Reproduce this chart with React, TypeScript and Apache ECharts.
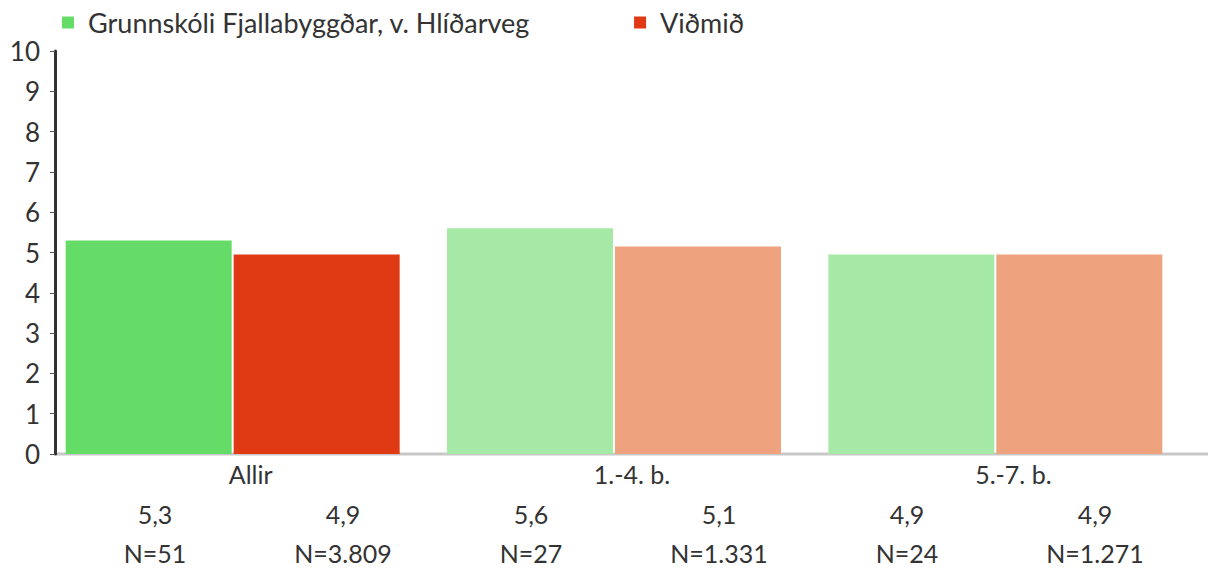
import React, { useEffect, useRef } from "react";
import * as echarts from "echarts";

// ---- data ----
const categories = ["Allir", "1.-4. b.", "5.-7. b."];
const seriesNames = ["Grunnskóli Fjallabyggðar, v. Hlíðarveg", "Viðmið"];
const schoolValues = [5.3, 5.6, 4.95];
const benchmarkValues = [4.95, 5.15, 4.95];
const valueLabels = ["5,3", "4,9", "5,6", "5,1", "4,9", "4,9"];
const nLabels = ["N=51", "N=3.809", "N=27", "N=1.331", "N=24", "N=1.271"];
const yTicks = [0, 10, 1]; // min, max, interval

// ---- styles ----
const FONT = "Lato";
const FS = 25;
const TEXT = "#333333";
const schoolStrong = "#66dc68";
const schoolLight = "#a6e9a6";
const benchStrong = "#e03a14";
const benchLight = "#eea27d";

export default function App() {
  const ref = useRef<HTMLDivElement>(null);
  useEffect(() => {
    document.body.style.margin = "0";
    const chart = echarts.init(ref.current!, null, { renderer: "svg" });
    const tableCols = valueLabels.map((_, i) => String(i));
    chart.setOption({
      animation: false,
      textStyle: { fontFamily: FONT },
      legend: {
        data: seriesNames,
        left: 57,
        top: 4,
        icon: "rect",
        itemWidth: 12,
        itemHeight: 12,
        itemGap: 104,
        textStyle: { fontSize: 27, color: TEXT, fontFamily: FONT, padding: [0, 0, 0, 9] },
      },
      grid: [
        { left: 42, right: 22, top: 51, bottom: 114 },
        { left: 61, right: 19, top: 440, height: 50 },
      ],
      xAxis: [
        {
          type: "category",
          gridIndex: 0,
          data: categories,
          axisLine: { show: false },
          axisTick: { show: false },
          axisLabel: { fontSize: FS, color: TEXT, margin: 7, padding: [0, 0, 0, 36], fontFamily: FONT },
        },
        {
          type: "category",
          gridIndex: 1,
          data: tableCols,
          axisLine: { show: false },
          axisTick: { show: false },
          axisLabel: {
            margin: 4,
            interval: 0,
            formatter: (_v: string, i: number) => `{v|${valueLabels[i]}}\n{n|${nLabels[i]}}`,
            rich: {
              v: { fontSize: FS, lineHeight: 39, color: TEXT, fontFamily: FONT },
              n: { fontSize: FS, lineHeight: 39, color: TEXT, fontFamily: FONT },
            },
          },
        },
      ],
      yAxis: [
        {
          type: "value",
          gridIndex: 0,
          min: yTicks[0],
          max: yTicks[1],
          interval: yTicks[2],
          offset: -13,
          axisLine: { show: true, lineStyle: { color: "#333", width: 3 } },
          axisTick: { show: true, length: 5, lineStyle: { color: "#555", width: 1 } },
          splitLine: { show: false },
          axisLabel: { fontSize: 26, color: TEXT, margin: 15, fontFamily: FONT },
        },
        { type: "value", gridIndex: 1, show: false },
      ],
      graphic: [
        {
          type: "line",
          z: 0,
          shape: { x1: 56, y1: 454, x2: 1208, y2: 454 },
          style: { stroke: "#c8c8c8", lineWidth: 3 },
        },
      ],
      series: [
        {
          name: seriesNames[0],
          type: "bar",
          xAxisIndex: 0,
          yAxisIndex: 0,
          barWidth: 166,
          barGap: "1.2%",
          itemStyle: { color: schoolStrong },
          data: schoolValues.map((v, i) => ({
            value: v,
            itemStyle: { color: i === 0 ? schoolStrong : schoolLight },
          })),
          z: 3,
        },
        {
          name: seriesNames[1],
          type: "bar",
          xAxisIndex: 0,
          yAxisIndex: 0,
          barWidth: 166,
          barGap: "1.2%",
          itemStyle: { color: benchStrong },
          data: benchmarkValues.map((v, i) => ({
            value: v,
            itemStyle: { color: i === 0 ? benchStrong : benchLight },
          })),
          z: 3,
        },
        { type: "bar", xAxisIndex: 1, yAxisIndex: 1, data: [], silent: true },
      ],
    });
    return () => chart.dispose();
  }, []);
  return <div ref={ref} style={{ width: 1208, height: 568 }} />;
}
